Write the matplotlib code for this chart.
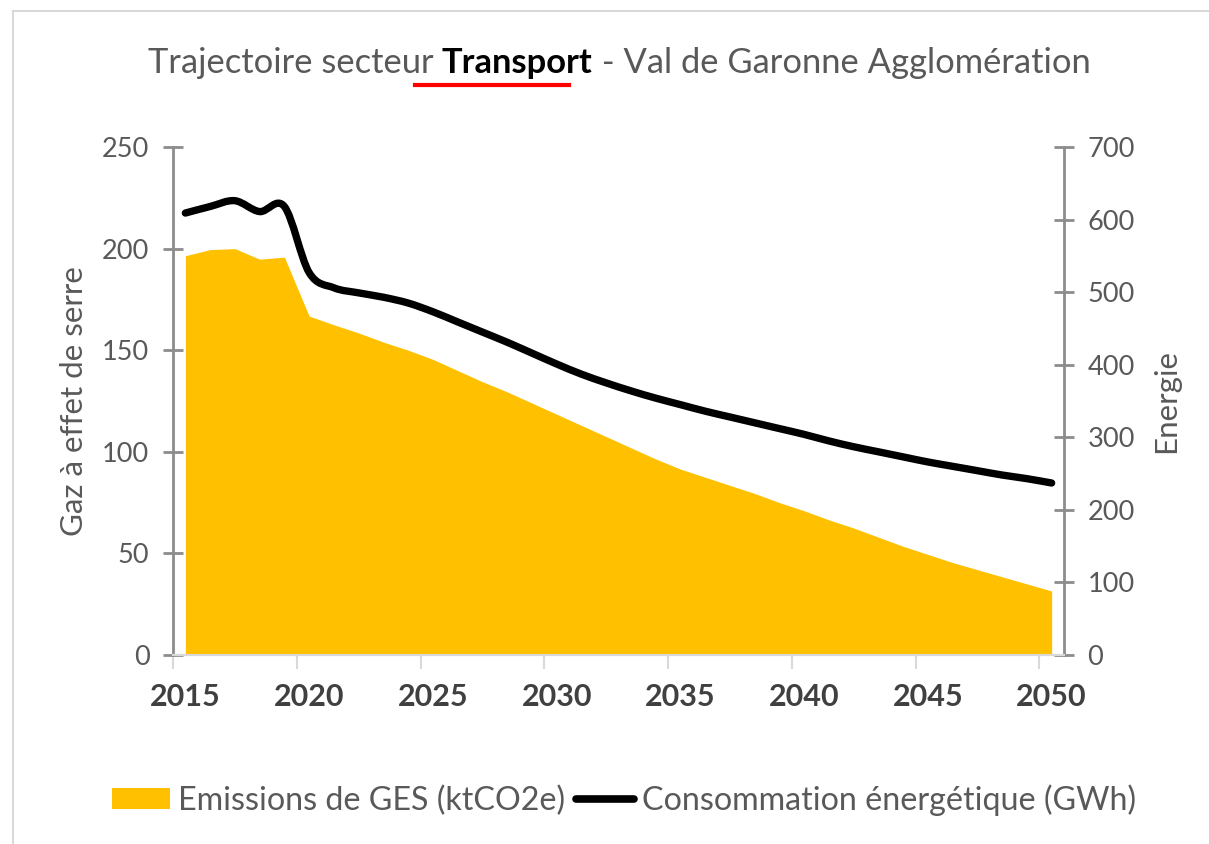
import matplotlib
matplotlib.use('Agg')
import matplotlib.pyplot as plt
from matplotlib.patches import Patch, PathPatch
from matplotlib.lines import Line2D
from matplotlib.path import Path

plt.rcParams['font.family'] = ['Lato', 'DejaVu Sans']

# data
annees = list(range(2015, 2051))
ges = [196.5, 199.5, 200.0, 194.8, 195.8, 166.8, 162.5, 158.5, 154.0, 150.0,
       145.5, 140.0, 134.5, 129.5, 124.0, 118.5, 113.0, 107.5, 102.0, 96.5,
       91.5, 87.5, 83.5, 79.5, 75.0, 71.0, 66.5, 62.5, 58.0, 53.5,
       49.5, 45.5, 42.0, 38.5, 35.0, 31.5]
energie = [609, 618, 626, 611, 618, 527, 506, 499, 493, 485,
           473, 459, 445, 431, 416, 401, 387, 375, 364, 354,
           345, 336, 328, 320, 312, 304, 295, 287, 280, 273,
           266, 260, 254, 248, 243, 237]
xticks_labels = [2015, 2020, 2025, 2030, 2035, 2040, 2045, 2050]
yticks_ges = [0, 50, 100, 150, 200, 250]
yticks_energie = [0, 100, 200, 300, 400, 500, 600, 700]

gris = '#595959'
axe = '#8c8c8c'
jaune = '#FFC000'

W, H = 1209, 844
fig = plt.figure(figsize=(W / 100, H / 100), dpi=100)

ax = fig.add_axes([173 / W, 1 - 655 / H, 891 / W, 508 / H])
ax.fill_between(annees, 0, ges, color=jaune, lw=0)
ax.set_xlim(2014.5, 2050.5)
ax.set_ylim(0, 250)
ax.set_yticks(yticks_ges)
ax.set_ylabel('Gaz à effet de serre', color=gris, fontsize=22.5, labelpad=10)

# x ticks between categories, labels on the years
ax.set_xticks([a - 0.5 for a in xticks_labels])
ax.set_xticklabels([])
ax.set_xticks(xticks_labels, minor=True)
ax.set_xticklabels([str(a) for a in xticks_labels], minor=True,
                   fontsize=22, fontweight='bold', color='#404040')
ax.tick_params(axis='x', which='major', direction='out', length=10, width=1.5, color='#d9d9d9')
ax.tick_params(axis='x', which='minor', length=0, pad=20)
ax.tick_params(axis='y', direction='inout', length=14, width=2, color=axe,
               labelcolor=gris, labelsize=19.5, pad=10)

# smoothed line like the spreadsheet one: cubic Bezier through the points
ax2 = ax.twinx()
n = len(annees)
verts = [(annees[0], energie[0])]
codes = [Path.MOVETO]
for i in range(n - 1):
    x0, y0 = annees[max(i - 1, 0)], energie[max(i - 1, 0)]
    x1, y1 = annees[i], energie[i]
    x2, y2 = annees[i + 1], energie[i + 1]
    x3, y3 = annees[min(i + 2, n - 1)], energie[min(i + 2, n - 1)]
    verts += [(x1 + (x2 - x0) / 6, y1 + (y2 - y0) / 6),
              (x2 - (x3 - x1) / 6, y2 - (y3 - y1) / 6),
              (x2, y2)]
    codes += [Path.CURVE4] * 3
ax2.add_patch(PathPatch(Path(verts, codes), facecolor='none', edgecolor='black',
                        lw=5.3, capstyle='round', joinstyle='round'))
ax2.set_ylim(0, 700)
ax2.set_yticks(yticks_energie)
ax2.set_ylabel('Energie', color=gris, fontsize=22.5, labelpad=12)
ax2.tick_params(axis='y', direction='inout', length=14, width=2, color=axe,
                labelcolor=gris, labelsize=19.5, pad=10)

for a in (ax, ax2):
    a.spines['top'].set_visible(False)
    a.spines['left'].set_color(axe)
    a.spines['left'].set_linewidth(2)
    a.spines['right'].set_color(axe)
    a.spines['right'].set_linewidth(2)
    a.spines['bottom'].set_color('#d9d9d9')
    a.spines['bottom'].set_linewidth(1.5)
ax.spines['right'].set_visible(False)
ax2.spines['left'].set_visible(False)

# title in three pieces, centred as a whole
renderer = fig.canvas.get_renderer()
morceaux = [('Trajectoire secteur ', 'normal', gris),
            ('Transport', 'bold', 'black'),
            (' - Val de Garonne Agglomération', 'normal', gris)]
ty = 1 - 73 / H
textes = [fig.text(0, ty, s, fontsize=24.8, fontweight=w, color=c, va='baseline')
          for s, w, c in morceaux]
largeurs = [t.get_window_extent(renderer).width for t in textes]
x = 619 - sum(largeurs) / 2
bornes = []
for t, l in zip(textes, largeurs):
    t.set_x(x / W)
    bornes.append((x, x + l))
    x += l
x0, x1 = bornes[1]
fig.add_artist(Line2D([(x0 - 27) / W, (x1 - 24) / W], [1 - 85 / H] * 2,
                      color='#ff0000', lw=3, transform=fig.transFigure))

# frame lines of the original picture
fig.add_artist(Line2D([13 / W, 1], [1 - 11 / H] * 2, color='#d9d9d9', lw=1.5,
                      transform=fig.transFigure))
fig.add_artist(Line2D([13 / W] * 2, [0, 1 - 11 / H], color='#d9d9d9', lw=1.5,
                      transform=fig.transFigure))

poignees = [Patch(facecolor=jaune, edgecolor='none'),
            Line2D([], [], color='black', lw=5.5, solid_capstyle='round')]
fig.legend(poignees, ['Emissions de GES (ktCO2e)', 'Consommation énergétique (GWh)'],
           loc='center', bbox_to_anchor=(624 / W, 1 - 800 / H), ncol=2, frameon=False,
           fontsize=23.2, labelcolor=gris, handlelength=1.8, handleheight=0.65,
           handletextpad=0.25, columnspacing=0.35)

fig.savefig('out.png', dpi=100)
